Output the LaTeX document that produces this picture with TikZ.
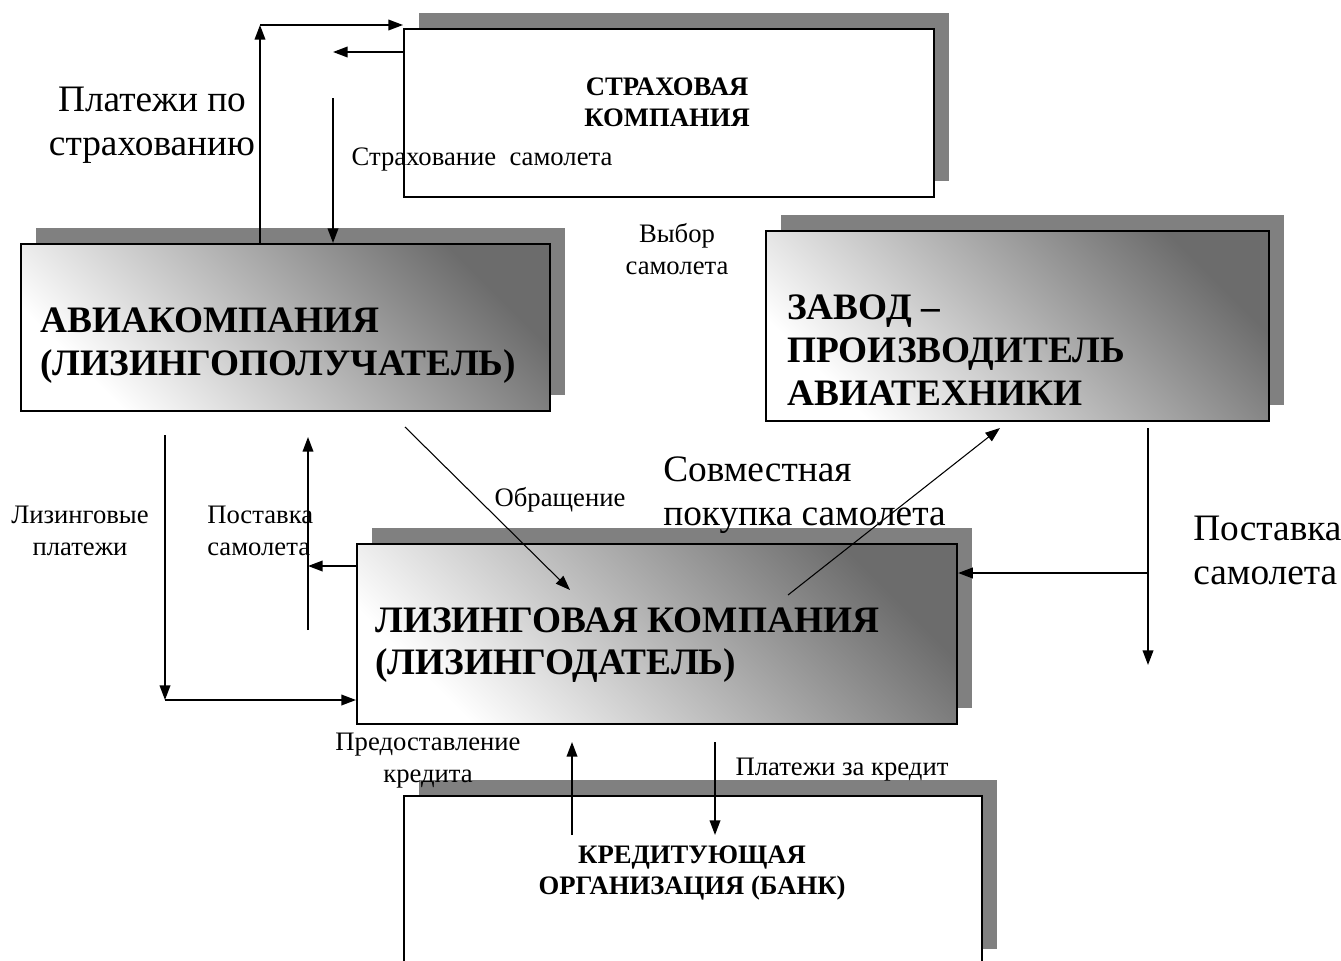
\documentclass[tikz,border=0pt]{standalone}
\usepackage{fontspec}
\setmainfont{Liberation Serif}[BoldFont={Liberation Serif Bold}]
\usetikzlibrary{arrows.meta,positioning,shadows,calc}
\definecolor{myshadow}{RGB}{128,128,128}
\definecolor{mydark}{RGB}{108,108,108}

\begin{document}
\begin{tikzpicture}[
  x=0.75pt, y=-0.75pt,
  myarrow/.style={line width=1.2pt, -{Triangle[length=11pt,width=8pt]}},
  thinarrow/.style={line width=0.8pt, -{Triangle[length=11pt,width=8pt]}},
  mybox/.style={
    draw,
    line width=1.6pt,
    rectangle,
    inner sep=0pt,
    anchor=north west,
    drop shadow={shadow xshift=11.5pt, shadow yshift=12pt, fill=myshadow, opacity=1}
    },
  greybox/.style={mybox, shade, top color=mydark, bottom color=white, shading angle=-45},
  whitebox/.style={mybox, fill=white},
  bigname/.style={font=\fontsize{28}{32}\selectfont\bfseries, align=left, inner sep=0pt, anchor=west},
  smallname/.style={font=\fontsize{20}{23}\selectfont\bfseries, align=center, inner sep=0pt},
  biglabel/.style={font=\fontsize{28}{33}\selectfont, inner sep=0pt},
  smalllabel/.style={font=\fontsize{20}{24}\selectfont, inner sep=0pt}
]
\clip (0,0) rectangle (1341,960);

% boxes
\node [whitebox, minimum width=397.5pt, minimum height=126pt] (ins) at (403,28) {};
\node [greybox, minimum width=396.75pt, minimum height=125.25pt] (avia) at (20,243) {};
\node [greybox, minimum width=377.25pt, minimum height=142.5pt] (zavod) at (765,230) {};
\node [greybox, minimum width=450pt, minimum height=135pt] (lease) at (356,543) {};
\node [whitebox, minimum width=433.5pt, minimum height=127pt] (bank) at (403,795) {};

\node [smallname] (ins-t) at ([shift={(-2,-11)}]ins.center) {СТРАХОВАЯ\\КОМПАНИЯ};
\node [bigname] (avia-t) at ([shift={(20,18)}]avia.west) {АВИАКОМПАНИЯ\\(ЛИЗИНГОПОЛУЧАТЕЛЬ)};
\node [bigname] (zavod-t) at ([shift={(22,24)}]zavod.west) {ЗАВОД –\\ПРОИЗВОДИТЕЛЬ\\АВИАТЕХНИКИ};
\node [bigname] (lease-t) at ([shift={(19,11)}]lease.west) {ЛИЗИНГОВАЯ КОМПАНИЯ\\(ЛИЗИНГОДАТЕЛЬ)};
\node [smallname] (bank-t) at (692,873) {КРЕДИТУЮЩАЯ\\ОРГАНИЗАЦИЯ (БАНК)};

% insurance
\coordinate (up1) at (260,25);
\draw [myarrow] (up1 |- avia.north) -- (up1);
\draw [myarrow] (up1) -- (up1 -| ins.west);
\coordinate (ins1) at (333,52);
\coordinate (ins2) at (333,98);
\draw [myarrow] (ins1 -| ins.west) -- (ins1);
\draw [myarrow] (ins2) -- (ins2 |- avia.north);

% diagonals
\coordinate (obr1) at (405,427);
\coordinate (obr2) at (570,590);
\draw [thinarrow] (obr1) -- (obr2);
\coordinate (buy1) at (788,595);
\coordinate (buy2) at (1000,428);
\draw [thinarrow] (buy1) -- (buy2);

% supply from the plant
\coordinate (sup1) at (1148,428);
\coordinate (sup2) at (1148,665);
\coordinate (sup3) at (1148,573);
\draw [myarrow] (sup1) -- (sup2);
\draw [myarrow] (sup3) -- (sup3 -| lease.east);

% leasing payments and delivery
\coordinate (pay1) at (165,435);
\coordinate (pay2) at (165,700);
\draw [myarrow] (pay1) -- (pay2);
\draw [myarrow] (pay2) -- (pay2 -| lease.west);
\coordinate (del1) at (308,566);
\coordinate (del2) at (308,630);
\coordinate (del3) at (308,437);
\draw [myarrow] (del1 -| lease.west) -- (del1);
\draw [myarrow] (del2) -- (del3);

% credit
\coordinate (cr1) at (572,835);
\coordinate (cr2) at (572,742);
\draw [myarrow] (cr1) -- (cr2);
\coordinate (cp1) at (715,742);
\coordinate (cp2) at (715,835);
\draw [myarrow] (cp1) -- (cp2);

% labels
\node [biglabel, align=center] (l-inspay) at (152,125) {Платежи по\\страхованию};
\node [smalllabel] (l-ins) at (482,160) {Страхование\ \ самолета};
\node [smalllabel, align=center] (l-choice) at (677,249) {Выбор\\самолета};
\node [smalllabel] (l-obr) at (560,500) {Обращение};
\node [biglabel, align=left, anchor=west] (l-buy) at (663,495) {Совместная\\покупка самолета};
\node [biglabel, align=left, anchor=west] (l-sup) at (1193,550) {Поставка\\самолета};
\node [smalllabel, align=center] (l-lpay) at (80,531) {Лизинговые\\платежи};
\node [smalllabel, align=left, anchor=west] (l-del) at (207,531) {Поставка\\самолета};
\node [smalllabel, align=center] (l-cred) at (428,761) {Предоставление\\кредита};
\node [smalllabel] (l-cpay) at (842,770) {Платежи за кредит};

\end{tikzpicture}
\end{document}
